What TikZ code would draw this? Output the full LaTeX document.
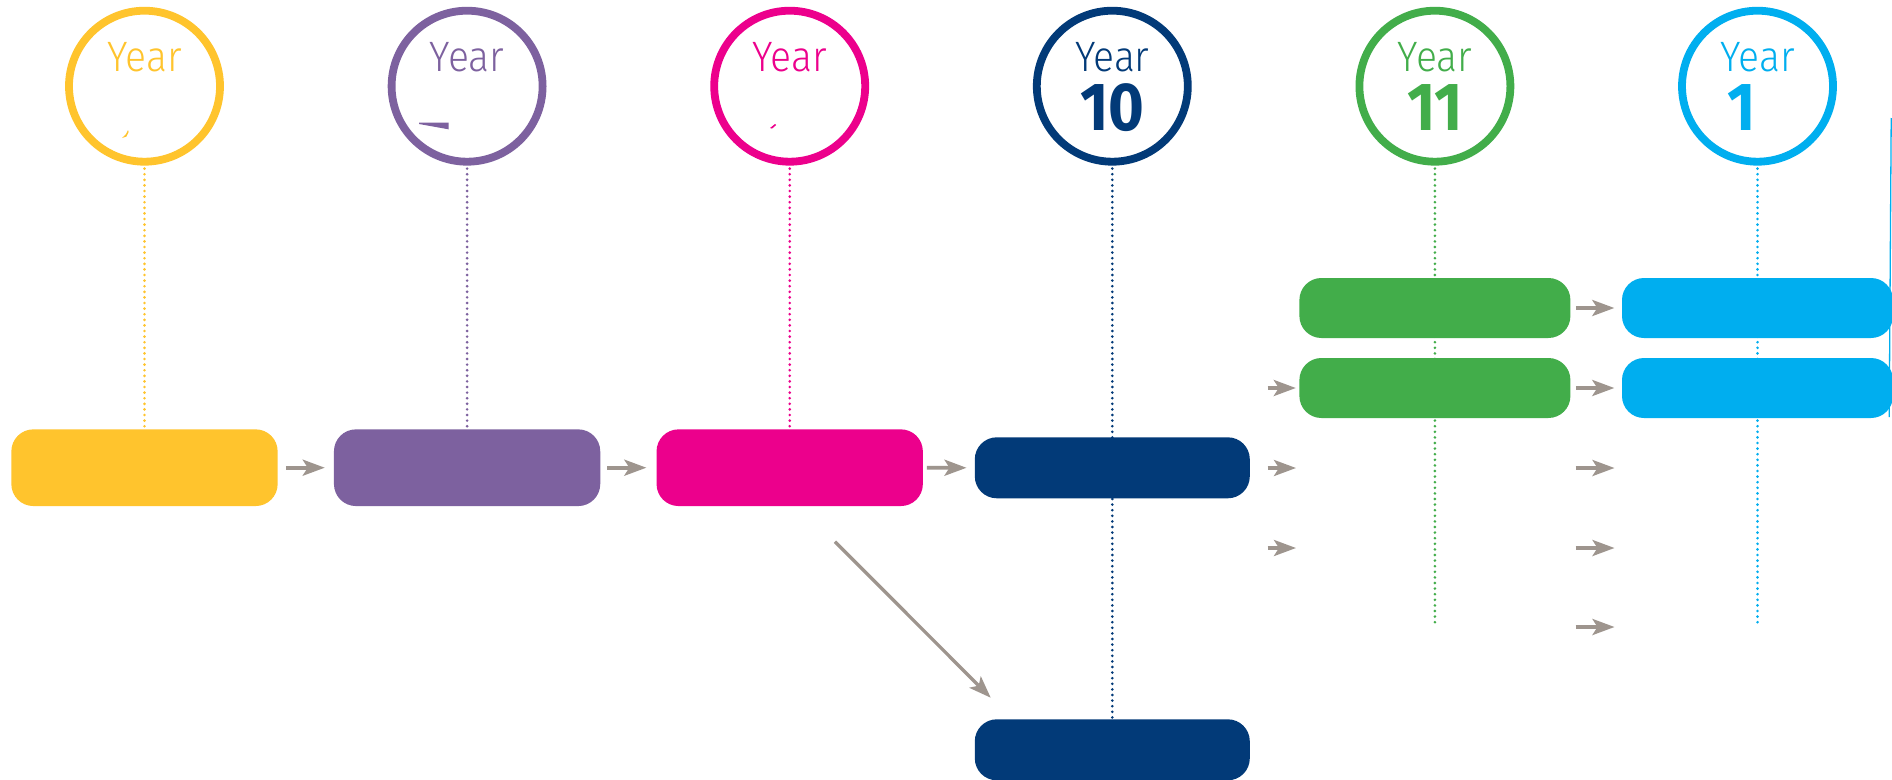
\documentclass[tikz,border=0pt]{standalone}
\usepackage{fontspec}
\usetikzlibrary{arrows.meta,backgrounds}
\newfontfamily\yearfont[FakeStretch=0.92]{Fira Sans Light}
\newfontfamily\numfont[FakeStretch=0.9]{Fira Sans}
\definecolor{cyel}{HTML}{FFC42D}
\definecolor{cpur}{HTML}{7D619F}
\definecolor{cpnk}{HTML}{EC008C}
\definecolor{cnav}{HTML}{023A78}
\definecolor{cgrn}{HTML}{42AD4A}
\definecolor{ccya}{HTML}{00AEEF}
\definecolor{cgry}{HTML}{9E958E}
\tikzset{
  yr/.style={circle, draw=#1, line width=7.8pt, minimum size=151pt, inner sep=0pt},
  boxA/.style={rectangle, rounded corners=22pt, inner sep=0pt, fill=#1, minimum width=266.3pt, minimum height=76.7pt},
  boxB/.style={rectangle, rounded corners=22pt, inner sep=0pt, fill=#1, minimum width=275pt, minimum height=61pt},
  boxC/.style={rectangle, rounded corners=22pt, inner sep=0pt, fill=#1, minimum width=271pt, minimum height=60pt},
  dotln/.style={draw=#1, line width=2.9pt, line cap=round, dash pattern=on 0pt off 5.6pt, shorten <=3pt},
  arr/.style={draw=cgry, line width=3.6pt, -{Stealth[length=22pt,width=16pt,inset=5pt]}},
  yeartxt/.style={anchor=base, inner sep=0pt, text=#1, font=\yearfont\fontsize{42.5}{45}\selectfont},
  numtxt/.style={anchor=base, inner sep=0pt, text=#1, font=\numfont\bfseries\fontsize{68}{70}\selectfont},
}
\begin{document}
\begin{tikzpicture}[x=1pt,y=-1pt]
\useasboundingbox (0,0) rectangle (1892,779);

% circles
\node[yr=cyel] (cy) at (144.5,86.2) {};
\node[yr=cpur] (cp) at (467.1,86.2) {};
\node[yr=cpnk] (ck) at (789.7,86.2) {};
\node[yr=cnav] (cn) at (1112.3,86.2) {};
\node[yr=cgrn] (cg) at (1434.9,86.2) {};
\node[yr=ccya] (cc) at (1757.5,86.2) {};

% year labels
\node[yeartxt=cyel] (ty) at (144.5,71) {Year};
\node[yeartxt=cpur] (tp) at (467.1,71) {Year};
\node[yeartxt=cpnk] (tk) at (789.7,71) {Year};
\node[yeartxt=cnav] (tn) at (1112.3,71) {Year};
\node[yeartxt=cgrn] (tg) at (1434.9,71) {Year};
\node[yeartxt=ccya] (tc) at (1757.5,71) {Year};
\node[numtxt=cnav] (nn) at (1112.3,130) {10};
\node[numtxt=cgrn] (ng) at (1434.9,130) {11};
\node[numtxt=ccya] (nc) at (1742,130) {1};

% small fragments
\fill[cyel] (122,138) -- (126,134) -- (128,130) -- (128.6,132) -- (126.5,136.5) -- cycle;
\fill[cpur] (419,122.7) -- (448.5,122.7) -- (448.5,129.3) -- (419,124) -- cycle;
\fill[cpnk] (770,128) -- (775,124) -- (776.2,125) -- (772,128.6) -- cycle;

% boxes
\node[boxA=cyel] (byel) at (144.5,467.7) {};
\node[boxA=cpur] (bpur) at (467.1,467.7) {};
\node[boxA=cpnk] (bpnk) at (789.7,467.7) {};
\node[boxB=cnav] (bnav1) at (1112.3,467.8) {};
\node[boxB=cnav] (bnav2) at (1112.3,749.8) {};
\node[boxC=cgrn] (bgrn1) at (1434.9,308) {};
\node[boxC=cgrn] (bgrn2) at (1434.9,388) {};
\node[boxC=ccya] (bcya1) at (1757.5,308) {};
\node[boxC=ccya] (bcya2) at (1757.5,388) {};

% free ends
\coordinate (gend) at (1434.9,627);
\coordinate (cend) at (1757.5,627);
\coordinate (ds) at (835,541.7);
\coordinate (de) at (990.7,697.7);
\coordinate (l3s) at (1267.5,468); \coordinate (l3e) at (1296,468);
\coordinate (l4s) at (1267.5,548); \coordinate (l4e) at (1296,548);
\coordinate (l2s) at (1267.5,388);
\coordinate (r3s) at (1575.6,468); \coordinate (r3e) at (1614.5,468);
\coordinate (r4s) at (1575.6,548); \coordinate (r4e) at (1614.5,548);
\coordinate (r5s) at (1575.6,627); \coordinate (r5e) at (1614.5,627);
\coordinate (edgeA) at (1891.2,118);
\coordinate (edgeB) at (1889.2,417);

% white page and dotted guide lines behind everything
\begin{pgfonlayer}{background}
\fill[white] (0,0) rectangle (1892,779);
\draw[dotln=cyel] (cy.south) -- (byel.north);
\draw[dotln=cpur] (cp.south) -- (bpur.north);
\draw[dotln=cpnk] (ck.south) -- (bpnk.north);
\draw[dotln=cnav] (cn.south) -- (bnav2.north);
\draw[dotln=cgrn] (cg.south) -- (gend);
\draw[dotln=ccya] (cc.south) -- (cend);
\end{pgfonlayer}

% arrows
\draw[arr, shorten <=8.1pt, shorten >=9pt] (byel.east) -- (bpur.west);
\draw[arr, shorten <=6.8pt, shorten >=10pt] (bpur.east) -- (bpnk.west);
\draw[arr, shorten <=3.9pt, shorten >=8.1pt] (bpnk.east) -- (bnav1.west);
\draw[arr, line width=3.3pt] (ds) -- (de);
\draw[arr, shorten >=3.4pt] (l2s) -- (bgrn2.west);
\draw[arr] (l3s) -- (l3e);
\draw[arr] (l4s) -- (l4e);
\draw[arr, shorten <=5.2pt, shorten >=7.5pt] (bgrn1.east) -- (bcya1.west);
\draw[arr, shorten <=5.2pt, shorten >=7.5pt] (bgrn2.east) -- (bcya2.west);
\draw[arr] (r3s) -- (r3e);
\draw[arr] (r4s) -- (r4e);
\draw[arr] (r5s) -- (r5e);

% thin edge line at right
\draw[ccya, line width=1.3pt] (edgeA) -- (edgeB);
\end{tikzpicture}
\end{document}
